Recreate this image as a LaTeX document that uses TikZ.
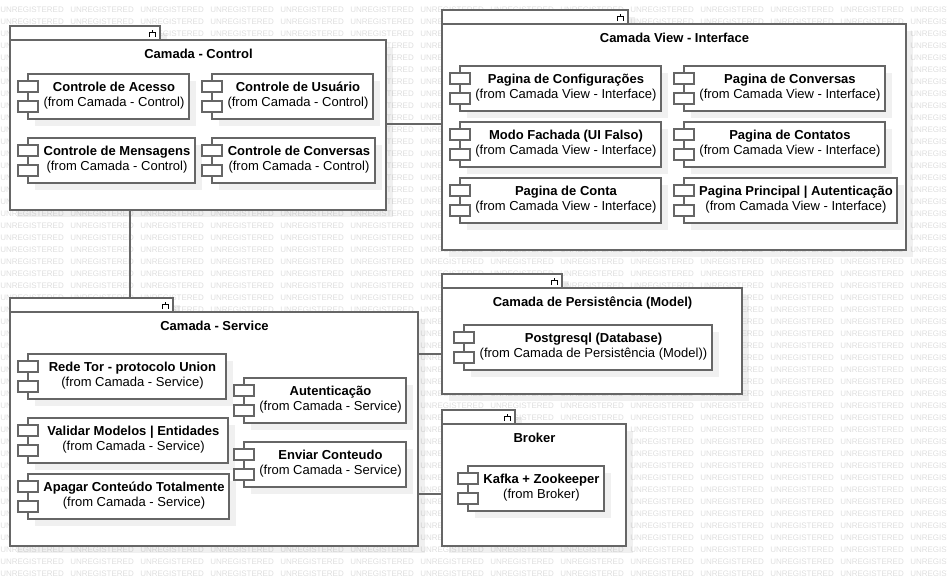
\documentclass[tikz,border=0pt]{standalone}
\usepackage{fontspec}
\setmainfont{Liberation Sans}
\usepackage{tikz}
\usetikzlibrary{positioning,shadows}
\definecolor{edgegray}{HTML}{666666}
\definecolor{markgray}{HTML}{DEDEDE}
\tikzstyle{flat shadow} = [drop shadow={shadow xshift=5.25pt, shadow yshift=-5.25pt, fill=black, opacity=0.06}]
\tikzstyle{watermark} = [anchor=west, inner sep=0pt, text=markgray, font=\fontsize{6}{7}\selectfont]
\tikzstyle{package} = [rectangle, anchor=north west, draw=edgegray, fill=white, line width=1.1pt, outer sep=0pt, flat shadow]
\tikzstyle{component} = [rectangle, anchor=north west, draw=edgegray, fill=white, line width=1.1pt, outer sep=0pt, minimum height=33.75pt, flat shadow]
\tikzstyle{port} = [rectangle, anchor=north west, draw=edgegray, fill=white, line width=1.1pt, outer sep=0pt, minimum width=15pt, minimum height=8.25pt]
\tikzstyle{label} = [align=center, text=black, inner sep=0pt, font=\fontsize{9.75}{11.25}\selectfont]
\tikzstyle{link} = [draw=edgegray, line width=1.1pt]
% #1 name, #2 x, #3 y, #4 width, #5 height, #6 tab width, #7 title
\newcommand{\umlpackage}[7]{
	\node [package, minimum width=#6*0.75pt, minimum height=10.5pt] (#1tab) at (#2,#3-14) {};
	\node [package, minimum width=#4*0.75pt, minimum height=#5*0.75pt] (#1) at (#2,#3) {};
	\node [label, below=6.75pt of #1.north, xshift=0.4pt] (#1title) {\textbf{#7}};
	\draw [black, line width=0.8pt] (#2+#6-10.5,#3-3) -- (#2+#6-10.5,#3-7.5) -- (#2+#6-4.5,#3-7.5) -- (#2+#6-4.5,#3-3) (#2+#6-7.5,#3-7.5) -- (#2+#6-7.5,#3-10);
}
% #1 name, #2 x, #3 y, #4 width, #5 title, #6 owner
\newcommand{\umlcomponent}[6]{
	\node [component, minimum width=#4*0.75pt] (#1) at (#2,#3) {};
	\node [port] (#1a) at (#2-10,#3+7) {};
	\node [port] (#1b) at (#2-10,#3+27) {};
	\node [label, xshift=4.1pt, yshift=0.75pt] (#1text) at (#1) {\textbf{#5}\\(from #6)};
}

\begin{document}
\begin{tikzpicture}[x=0.75pt, y=-0.75pt]
	\useasboundingbox (0,0) rectangle (947,586);
	% Watermark
	\foreach \col in {0,...,13}
		\foreach \row in {0,...,47}
			\node [watermark] (mark\col x\row) at (70*\col,9.3+12*\row) {UNREGISTERED};
	% Place packages
	\umlpackage{control}{10}{40}{376}{170}{150}{Camada - Control}
	\umlpackage{view}{442}{24}{464}{226}{186}{Camada View - Interface}
	\umlpackage{persist}{442}{288}{300}{106}{120}{Camada de Persistência (Model)}
	\umlpackage{service}{10}{312}{408}{234}{163}{Camada - Service}
	\umlpackage{broker}{442}{424}{184}{122}{73}{Broker}
	% Place components
	\umlcomponent{acesso}{28}{74}{161}{Controle de Acesso}{Camada - Control}
	\umlcomponent{usuario}{212}{74}{161}{Controle de Usuário}{Camada - Control}
	\umlcomponent{mensagens}{28}{138}{167}{Controle de Mensagens}{Camada - Control}
	\umlcomponent{conversas}{212}{138}{163}{Controle de Conversas}{Camada - Control}
	\umlcomponent{configs}{460}{66}{201}{Pagina de Configurações}{Camada View - Interface}
	\umlcomponent{pgconversas}{684}{66}{201}{Pagina de Conversas}{Camada View - Interface}
	\umlcomponent{fachada}{460}{122}{201}{Modo Fachada (UI Falso)}{Camada View - Interface}
	\umlcomponent{contatos}{684}{122}{201}{Pagina de Contatos}{Camada View - Interface}
	\umlcomponent{conta}{460}{178}{201}{Pagina de Conta}{Camada View - Interface}
	\umlcomponent{principal}{684}{178}{213}{Pagina Principal | Autenticação}{Camada View - Interface}
	\umlcomponent{postgres}{464}{325}{248}{Postgresql (Database)}{Camada de Persistência (Model)}
	\umlcomponent{kafka}{468}{466}{136}{Kafka + Zookeeper}{Broker}
	\umlcomponent{tor}{28}{354}{198}{Rede Tor - protocolo Union}{Camada - Service}
	\umlcomponent{validar}{28}{418}{200}{Validar Modelos | Entidades}{Camada - Service}
	\umlcomponent{apagar}{28}{474}{201}{Apagar Conteúdo Totalmente}{Camada - Service}
	\umlcomponent{autentica}{244}{378}{162}{Autenticação}{Camada - Service}
	\umlcomponent{enviar}{244}{442}{162}{Enviar Conteudo}{Camada - Service}
	% Draw edges
	\path [link] ([xshift=-51pt]control.south) -- ([xshift=-51pt]control.south |- servicetab.north);
	\path [link] ([yshift=0.75pt]control.east) -- ([yshift=0.75pt]control.east -| view.west);
	\path [link] ([yshift=56.25pt]service.east) -- ([yshift=56.25pt]service.east -| persist.west);
	\path [link] ([yshift=-48.75pt]service.east) -- ([yshift=-48.75pt]service.east -| broker.west);
\end{tikzpicture}
\end{document}
